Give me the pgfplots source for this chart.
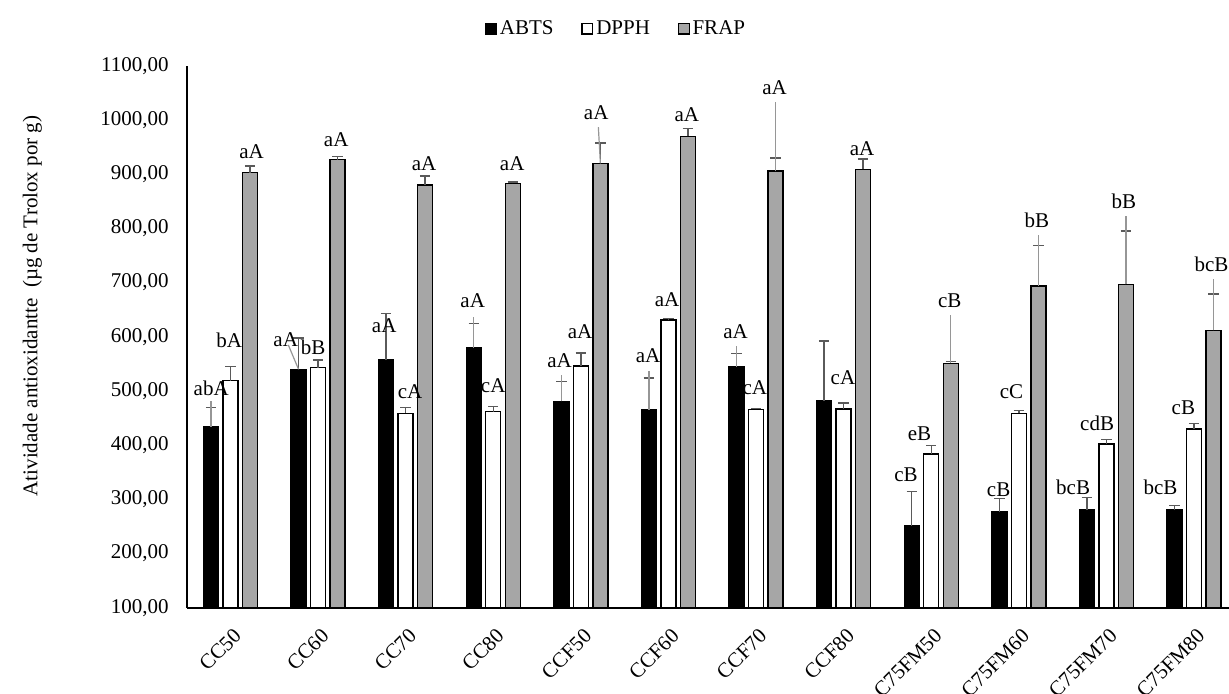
\documentclass[border=0pt]{standalone}
\usepackage{fontspec}
\setmainfont{Liberation Serif}
\usepackage{pgfplots}
\usepackage{pgfplotstable}
\pgfplotsset{compat=1.18}
\definecolor{frapgray}{RGB}{166,166,166}
\definecolor{errgray}{RGB}{90,90,90}
\definecolor{leadgray}{RGB}{150,150,150}
\newcommand\lf{\fontsize{10.5pt}{12.6pt}\selectfont}
\pgfplotsset{sqleg/.style={legend image code/.code={\draw[##1, line width=0.6pt] (0pt,-2.7pt) rectangle (5.4pt,2.7pt);}}}

\pgfplotstableread{
x abts abtse dpph dpphe frap frape
0  434 36  519 26 903 12
1  540 58  543 14 927 6
2  557 86  459 11 880 17
3  579 46  462 9  883 3
4  481 36  546 24 920 38
5  465 59  631 3  970 15
6  545 24  466 2  906 24
7  482 110 467 11 909 19
8  251 64  384 15 551 3
9  277 25  459 5  694 74
10 280 23  402 8  697 98
11 280 9   430 10 612 67
}\datatable

\begin{document}
\begin{tikzpicture}
\begin{axis}[
  scale only axis,
  width=521.15pt, height=270.9pt,
  ybar=2.25pt, bar width=7.5pt,
  xmin=-0.5, xmax=11.4,
  ymin=100, ymax=1100,
  ytick distance=100,
  xtick=data,
  xticklabels={CC50,CC60,CC70,CC80,CCF50,CCF60,CCF70,CCF80,C75FM50,C75FM60,C75FM70,C75FM80},
  axis x line*=bottom, axis y line*=left,
  axis line style={line width=0.9pt, black},
  major tick length=0pt,
  /pgf/number format/.cd, fixed, fixed zerofill, precision=2, use comma, 1000 sep={}, assume math mode=true,
  /pgfplots/.cd,
  yticklabel style={xshift=-5.5pt, font=\lf},
  xticklabel style={xshift=1pt, yshift=-9.5pt, rotate=45, anchor=north east, inner sep=0pt, font=\lf},
  ylabel={Atividade antioxidantte\ \ (µg de Trolox por g)},
  ylabel style={at={(axis description cs:-0.148,0.557)}, anchor=center, rotate=0, font=\lf},
  legend columns=3,
  legend style={at={(axis description cs:0.4124,1.0687)}, anchor=center, draw=none, fill=none,
    font=\lf, /tikz/every even column/.append style={column sep=12.5pt},
    nodes={inner sep=1.4pt}},
  error bars/error bar style={line width=0.7pt, errgray},
  error bars/error mark options={rotate=90, mark size=2.6pt, line width=0.7pt, errgray},
]
\addplot[fill=black, draw=black, line width=0.7pt, sqleg,
  error bars/.cd, y dir=plus, y explicit]
  table[x=x, y=abts, y error=abtse] {\datatable};
\addlegendentry{ABTS}
\addplot[fill=white, draw=black, line width=0.7pt, sqleg,
  error bars/.cd, y dir=plus, y explicit]
  table[x=x, y=dpph, y error=dpphe] {\datatable};
\addlegendentry{DPPH}
\addplot[fill=frapgray, draw=black, line width=0.7pt, sqleg,
  error bars/.cd, y dir=plus, y explicit]
  table[x=x, y=frap, y error=frape] {\datatable};
\addlegendentry{FRAP}

% leader lines of moved data labels
\draw[leadgray, line width=0.6pt] (axis cs:-0.223,434) -- (axis cs:-0.223,482);
\draw[leadgray, line width=0.6pt] (axis cs:0.777,540) -- (axis cs:0.66,585);
\draw[leadgray, line width=0.6pt] (axis cs:2.777,579) -- (axis cs:2.777,637);
\draw[leadgray, line width=0.6pt] (axis cs:3.777,481) -- (axis cs:3.777,529);
\draw[leadgray, line width=0.6pt] (axis cs:4.223,920) -- (axis cs:4.2,987);
\draw[leadgray, line width=0.6pt] (axis cs:4.777,465) -- (axis cs:4.777,537);
\draw[leadgray, line width=0.6pt] (axis cs:5.777,545) -- (axis cs:5.777,583);
\draw[leadgray, line width=0.6pt] (axis cs:6.223,906) -- (axis cs:6.223,1033);
\draw[leadgray, line width=0.6pt] (axis cs:8.223,551) -- (axis cs:8.223,640);
\draw[leadgray, line width=0.6pt] (axis cs:9.223,694) -- (axis cs:9.223,788);
\draw[leadgray, line width=0.6pt] (axis cs:10.223,697) -- (axis cs:10.223,823);
\draw[leadgray, line width=0.6pt] (axis cs:11.223,612) -- (axis cs:11.223,706);

% data labels
\begin{scope}[every node/.style={inner sep=0pt, font=\lf}]
\node at (axis cs:-0.22,505) {abA};
\node at (axis cs:-0.015,594) {bA};
\node at (axis cs:0.24,941) {aA};
\node at (axis cs:0.63,594) {aA};
\node at (axis cs:0.944,581) {bB};
\node at (axis cs:1.207,964) {aA};
\node at (axis cs:1.755,621) {aA};
\node at (axis cs:2.05,498) {cA};
\node at (axis cs:2.21,920) {aA};
\node at (axis cs:2.765,666) {aA};
\node at (axis cs:2.999,509) {cA};
\node at (axis cs:3.216,920) {aA};
\node at (axis cs:3.758,556) {aA};
\node at (axis cs:3.992,610) {aA};
\node at (axis cs:4.175,1013) {aA};
\node at (axis cs:4.768,566) {aA};
\node at (axis cs:4.985,669) {aA};
\node at (axis cs:5.209,1010) {aA};
\node at (axis cs:5.767,609) {aA};
\node at (axis cs:5.987,507) {cA};
\node at (axis cs:6.212,1060) {aA};
\node at (axis cs:6.992,524) {cA};
\node at (axis cs:7.211,948) {aA};
\node at (axis cs:7.713,345) {cB};
\node at (axis cs:7.867,422) {eB};
\node at (axis cs:8.211,667) {cB};
\node at (axis cs:8.77,317) {cB};
\node at (axis cs:8.917,498) {cC};
\node at (axis cs:9.207,815) {bB};
\node at (axis cs:9.62,322) {bcB};
\node at (axis cs:9.894,441) {cdB};
\node at (axis cs:10.20,850) {bB};
\node at (axis cs:10.618,322) {bcB};
\node at (axis cs:10.879,469) {cB};
\node at (axis cs:11.2,734) {bcB};
\end{scope}
\coordinate (bl) at (rel axis cs:0,0);
\end{axis}
\pgfresetboundingbox
\path[use as bounding box] ([shift={(-93.35pt,-42.65pt)}]bl) rectangle ([shift={(521.15pt,303.85pt)}]bl);
\end{tikzpicture}
\end{document}
